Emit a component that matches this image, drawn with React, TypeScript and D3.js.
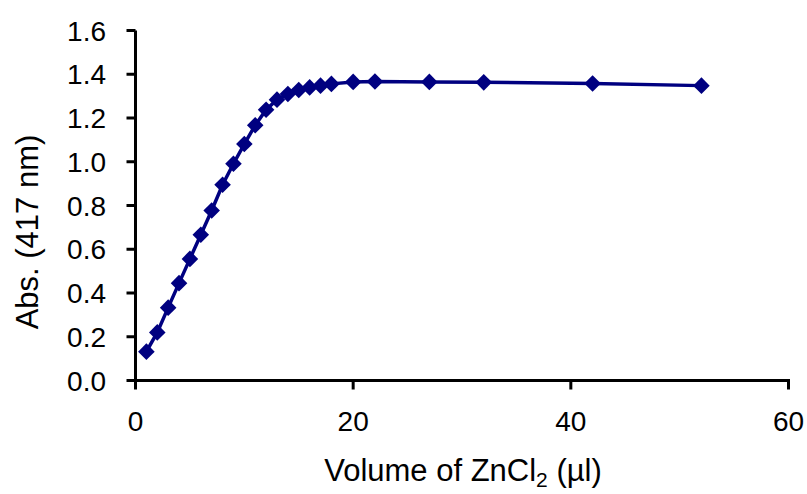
import React from "react";
import * as d3 from "d3";

// Zinc chloride titration: absorbance at 417 nm vs. added volume
const volumes = [1, 2, 3, 4, 5, 6, 7, 8, 9, 10, 11, 12, 13, 14, 15, 16, 17, 18, 20, 22, 27, 32, 42, 52];
const absorbance = [
  0.132, 0.22, 0.333, 0.445, 0.556, 0.666, 0.777, 0.895, 0.991, 1.081, 1.167, 1.238,
  1.284, 1.31, 1.328, 1.34, 1.348, 1.356, 1.365, 1.367, 1.365, 1.363, 1.358, 1.348,
];
const xTicks = [0, 20, 40, 60];
const yTicks = [0, 0.2, 0.4, 0.6, 0.8, 1.0, 1.2, 1.4, 1.6];

const W = 807;
const H = 494;
const left = 135.5;
const right = 788.5;
const top = 30.5;
const bottom = 380.5;
const NAVY = "#000080";
const FONT = "'Liberation Sans', Arial, sans-serif";

export default function App() {
  const x = d3.scaleLinear().domain([0, 60]).range([left, right]);
  const y = d3.scaleLinear().domain([0, 1.6]).range([bottom, top]);
  const pts = volumes.map((v, i) => [v, absorbance[i]] as [number, number]);
  const line = d3
    .line<[number, number]>()
    .x((d) => x(d[0]))
    .y((d) => y(d[1]));
  const diamond = d3.symbol().type(d3.symbolDiamond2).size(175)() as string;

  return (
    <svg
      width={W}
      height={H}
      style={{ position: "absolute", left: 0, top: 0, background: "#fff" }}
      fontFamily={FONT}
    >
      {/* axes */}
      <line x1={left} x2={left} y1={top} y2={bottom} stroke="#000" strokeWidth={3} />
      <line x1={left - 1.5} x2={right + 1.5} y1={bottom} y2={bottom} stroke="#000" strokeWidth={3} />
      {yTicks.map((t) => (
        <g key={"y" + t}>
          <line x1={left - 9} x2={left} y1={y(t)} y2={y(t)} stroke="#000" strokeWidth={3} />
          <text x={106} y={y(t)} dy="0.36em" textAnchor="end" fontSize={28} fill="#000">
            {d3.format(".1f")(t)}
          </text>
        </g>
      ))}
      {xTicks.map((t) => (
        <g key={"x" + t}>
          <line x1={x(t)} x2={x(t)} y1={bottom} y2={bottom + 9} stroke="#000" strokeWidth={3} />
          <text x={x(t)} y={431} textAnchor="middle" fontSize={28} fill="#000">
            {t}
          </text>
        </g>
      ))}
      {/* axis titles */}
      <text x={463} y={481} textAnchor="middle" fontSize={31} fill="#000">
        Volume of ZnCl
        <tspan dy={6} fontSize={21}>2</tspan>
        <tspan dy={-6}> (µl)</tspan>
      </text>
      <text
        transform={`translate(38,232) rotate(-90)`}
        textAnchor="middle"
        fontSize={31}
        fill="#000"
      >
        Abs. (417 nm)
      </text>
      {/* series */}
      <path d={line(pts) as string} fill="none" stroke={NAVY} strokeWidth={3.5} />
      {pts.map((d, i) => (
        <path key={i} d={diamond} transform={`translate(${x(d[0])},${y(d[1])})`} fill={NAVY} />
      ))}
    </svg>
  );
}
